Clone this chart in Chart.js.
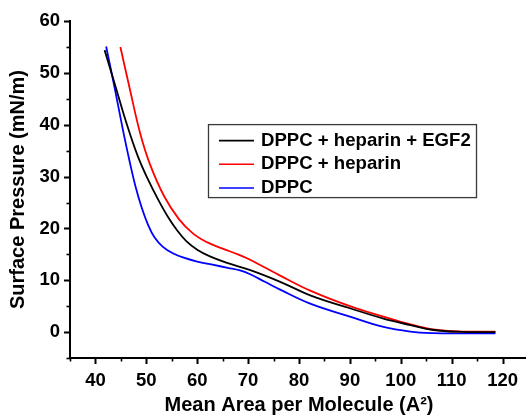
<!DOCTYPE html>
<html>
<head>
<meta charset="utf-8">
<script src="https://cdn.jsdelivr.net/npm/chart.js@4/dist/chart.umd.min.js"></script>
<style>
  html, body { margin: 0; padding: 0; overflow: hidden; background: #fff; }
  #wrap { width: 530px; height: 416px; position: relative; }
</style>
</head>
<body>
<div id="wrap"><canvas id="c"></canvas></div>
<script>
// ---- data ----
const seriesLabels = ['DPPC + heparin + EGF2', 'DPPC + heparin', 'DPPC'];
const seriesColors = ['#000000', '#ff0000', '#0000ff'];

const xEGF2 = [41.8, 44.0, 46.2, 48.3, 50.3, 52.3, 54.2, 56.0, 57.8, 60.0, 62.5, 65.7, 70.3, 76.3, 82.2, 90.0, 96.6, 101.9, 106.4, 112.0, 118.6];
const yEGF2 = [54.4, 47.2, 40.0, 34.0, 29.5, 25.6, 22.3, 19.7, 17.6, 15.9, 14.6, 13.4, 12.0, 9.7, 7.1, 4.6, 2.6, 1.35, 0.4, 0.05, 0.0];

const xHeparin = [44.9, 46.8, 48.8, 50.7, 53.5, 56.4, 59.2, 62.0, 65.0, 68.0, 70.3, 73.0, 76.3, 82.2, 90.0, 96.6, 101.9, 106.4, 112.0, 118.6];
const yHeparin = [55.0, 46.7, 38.3, 32.4, 26.2, 21.8, 19.0, 17.3, 16.1, 15.0, 14.0, 12.6, 10.9, 8.0, 5.0, 3.0, 1.5, 0.5, 0.1, 0.1];

const xDPPC = [42.1, 43.8, 45.3, 46.7, 47.9, 49.1, 50.3, 51.6, 53.2, 55.2, 57.5, 60.0, 63.0, 66.0, 68.4, 70.3, 73.3, 76.3, 82.2, 90.0, 96.6, 101.9, 106.4, 112.0, 118.6];
const yDPPC = [55.1, 47.0, 39.5, 33.0, 28.0, 24.0, 20.8, 18.3, 16.5, 15.2, 14.3, 13.6, 13.0, 12.4, 11.9, 11.2, 9.7, 8.2, 5.5, 3.0, 1.0, 0.1, -0.2, -0.25, -0.25];

const xMajorTicks = [40, 50, 60, 70, 80, 90, 100, 110, 120];
const xMinorTicks = [35, 45, 55, 65, 75, 85, 95, 105, 115, 125];
const yMajorTicks = [0, 10, 20, 30, 40, 50, 60];
const yMinorTicks = [-5, 5, 15, 25, 35, 45, 55];

const xTitle = 'Mean Area per Molecule (A\u00B2)';
const yTitle = 'Surface Pressure (mN/m)';

// ---- build ----
const toPts = (xs, ys) => xs.map((x, i) => ({ x: x, y: ys[i] }));
const allX = [xEGF2, xHeparin, xDPPC];
const allY = [yEGF2, yHeparin, yDPPC];

const FONT = "'Liberation Sans', Arial, sans-serif";

const datasets = seriesLabels.map((lab, i) => ({
  label: lab,
  data: toPts(allX[i], allY[i]),
  borderColor: seriesColors[i],
  backgroundColor: seriesColors[i],
  borderWidth: 1.8,
  pointRadius: 0,
  fill: false,
  tension: 0.4
}));

const tickMarks = {
  id: 'tickMarks',
  afterDraw(chart) {
    const ctx = chart.ctx;
    const xs = chart.scales.x, ys = chart.scales.y;
    const ca = chart.chartArea;
    ctx.save();
    ctx.strokeStyle = '#000';
    const drawX = (vals, len, w) => {
      ctx.lineWidth = w;
      vals.forEach(v => {
        const p = Math.round(xs.getPixelForValue(v)) + 0.5;
        ctx.beginPath(); ctx.moveTo(p, ca.bottom); ctx.lineTo(p, ca.bottom + len); ctx.stroke();
      });
    };
    const drawY = (vals, len, w) => {
      ctx.lineWidth = w;
      vals.forEach(v => {
        const p = Math.round(ys.getPixelForValue(v)) + 0.5;
        ctx.beginPath(); ctx.moveTo(ca.left, p); ctx.lineTo(ca.left - len, p); ctx.stroke();
      });
    };
    drawX(xMajorTicks, 6, 2);
    drawX(xMinorTicks, 3.5, 1.6);
    drawY(yMajorTicks, 6, 2);
    drawY(yMinorTicks, 3.5, 1.6);
    ctx.restore();
  }
};

const boxLegend = {
  id: 'boxLegend',
  afterDraw(chart) {
    const ctx = chart.ctx;
    const ca = chart.chartArea;
    const left = ca.left + 138.5, top = ca.top + 103.5, w = 268, h = 73;
    ctx.save();
    ctx.strokeStyle = '#3a3a3a';
    ctx.lineWidth = 1.3;
    ctx.strokeRect(left, top, w, h);
    ctx.font = 'bold 18.6px ' + FONT;
    ctx.textBaseline = 'middle';
    ctx.textAlign = 'left';
    chart.data.datasets.forEach((ds, i) => {
      const yy = top + 16 + i * 23.7;
      ctx.strokeStyle = ds.borderColor;
      ctx.lineWidth = 1.6;
      ctx.beginPath(); ctx.moveTo(left + 10.5, yy); ctx.lineTo(left + 45.5, yy); ctx.stroke();
      ctx.fillStyle = '#000';
      ctx.fillText(ds.label, left + 52.5, yy);
    });
    ctx.restore();
  }
};

new Chart(document.getElementById('c'), {
  type: 'line',
  data: { datasets: datasets },
  options: {
    responsive: true,
    maintainAspectRatio: false,
    animation: false,
    layout: { padding: { top: 21, left: 0, right: 0, bottom: 0 } },
    plugins: { legend: { display: false }, tooltip: { enabled: false } },
    scales: {
      x: {
        type: 'linear',
        min: 35, max: 125,
        afterBuildTicks: s => { s.ticks = xMajorTicks.map(v => ({ value: v })); },
        afterFit: s => { s.height = 58; },
        grid: { display: false, drawTicks: false },
        border: { display: true, color: '#000', width: 2 },
        ticks: {
          autoSkip: false, maxRotation: 0, padding: 12,
          color: '#000', font: { family: FONT, size: 18.5, weight: 'bold' }
        },
        title: {
          display: true, text: xTitle, color: '#000',
          font: { family: FONT, size: 20, weight: 'bold' },
          padding: { top: 0, bottom: -1 }
        }
      },
      y: {
        type: 'linear',
        min: -5, max: 60,
        afterBuildTicks: s => { s.ticks = yMajorTicks.map(v => ({ value: v })); },
        afterFit: s => { s.width = 70; },
        grid: { display: false, drawTicks: false },
        border: { display: true, color: '#000', width: 2 },
        ticks: {
          autoSkip: false, padding: 10,
          color: '#000', font: { family: FONT, size: 18.5, weight: 'bold' }
        },
        title: {
          display: true, text: yTitle, color: '#000',
          font: { family: FONT, size: 20, weight: 'bold' },
          padding: { top: 6, bottom: 0 }
        }
      }
    }
  },
  plugins: [tickMarks, boxLegend]
});
</script>
</body>
</html>
